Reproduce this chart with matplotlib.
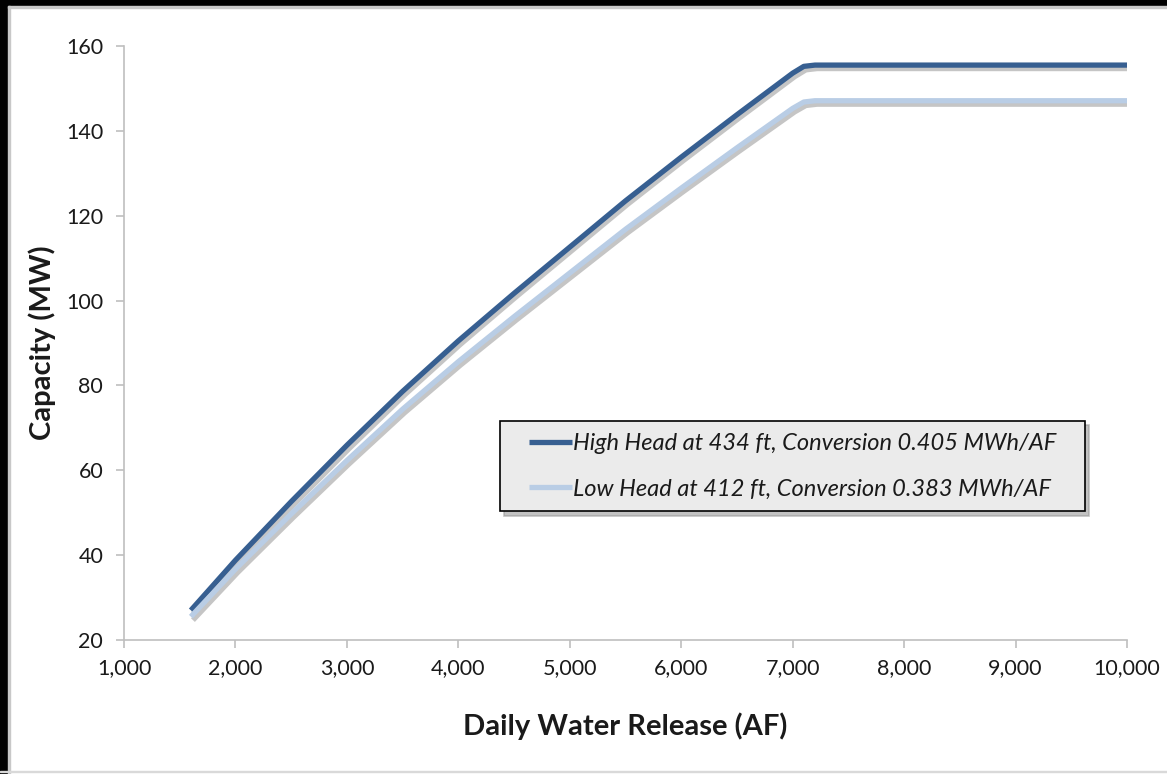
"""Capacity vs daily water release chart."""

import matplotlib

matplotlib.use("Agg")
from matplotlib import pyplot as plt  # noqa: E402
from matplotlib import patheffects as pe  # noqa: E402
from matplotlib.legend_handler import HandlerLine2D  # noqa: E402
from matplotlib.patches import Rectangle  # noqa: E402
from matplotlib.ticker import FuncFormatter, MultipleLocator  # noqa: E402

plt.rcParams["font.family"] = ["Lato", "DejaVu Sans"]

release_af = [1600, 2000, 2500, 3000, 3500, 4000, 4500, 5000, 5500,
              6000, 6500, 7000, 7100, 7200, 7300, 10000]
high_head_mw = [27.0, 38.8, 52.6, 65.9, 78.6, 90.5, 101.7, 112.6, 123.5,
                133.8, 143.8, 153.6, 155.2, 155.5, 155.5, 155.5]
low_head_mw = [25.5, 36.7, 49.7, 62.3, 74.4, 85.6, 96.2, 106.5, 116.8,
               126.5, 136.0, 145.3, 146.8, 147.1, 147.1, 147.1]
series_labels = [
    "High Head at 434 ft, Conversion 0.405 MWh/AF",
    "Low Head at 412 ft, Conversion 0.383 MWh/AF",
]

_HIGH_COLOR = "#375f91"
_LOW_COLOR = "#b9cde5"
_AXIS_COLOR = "#bfbfbf"
_TEXT_COLOR = "#1a1a1a"


class _RightAlignedLine(HandlerLine2D):
    """Legend line drawn only over the right part of the handle slot, no shadow."""

    fraction = 0.72

    def get_xdata(self, legend, xdescent, ydescent, width, height, fontsize):
        start = -xdescent + width * (1 - self.fraction)
        xdata = [start, -xdescent + width]
        return xdata, xdata

    def create_artists(self, *args, **kwargs):
        artists = super().create_artists(*args, **kwargs)
        for artist in artists:
            artist.set_path_effects([])
        return artists


W, H = 1167, 774
fig = plt.figure(figsize=(W / 100, H / 100), dpi=100, facecolor="white")

# screenshot frame: heavy black edge top/left, thin grey bottom
fig.patches.append(Rectangle((0, 1 - 6 / H), 1, 6 / H, transform=fig.transFigure,
                             color="black", zorder=10))
fig.patches.append(Rectangle((0, 0), 8 / W, 1, transform=fig.transFigure,
                             color="black", zorder=10))
fig.patches.append(Rectangle((8 / W, 1 - 8 / H), 1, 2 / H, transform=fig.transFigure,
                             color="#c8c8c8", zorder=10))
fig.patches.append(Rectangle((8 / W, 0), 2 / W, 1 - 6 / H, transform=fig.transFigure,
                             color="#c8c8c8", zorder=10))
fig.patches.append(Rectangle((0, 2 / H), 1, 1.5 / H, transform=fig.transFigure,
                             color="#d9d9d9", zorder=10))

ax = fig.add_axes([124 / W, (H - 640) / H, (1127 - 124) / W, (640 - 46) / H])

shadow = [pe.SimpleLineShadow(offset=(1.5, -2.5), shadow_color="#7f7f7f", alpha=0.45),
          pe.Normal()]
for values, color, label in [(high_head_mw, _HIGH_COLOR, series_labels[0]),
                             (low_head_mw, _LOW_COLOR, series_labels[1])]:
    ax.plot(release_af, values, color=color, linewidth=3.8, label=label,
            solid_capstyle="butt", solid_joinstyle="round", path_effects=shadow)

ax.set_xlim(1000, 10000)
ax.set_ylim(20, 160)
ax.xaxis.set_major_locator(MultipleLocator(1000))
ax.yaxis.set_major_locator(MultipleLocator(20))
ax.xaxis.set_major_formatter(FuncFormatter(lambda v, _: f"{v:,.0f}"))

for side in ("top", "right"):
    ax.spines[side].set_visible(False)
for side in ("left", "bottom"):
    ax.spines[side].set_color(_AXIS_COLOR)
    ax.spines[side].set_linewidth(1.2)
ax.tick_params(axis="both", direction="out", length=6, width=1.2, color=_AXIS_COLOR,
               labelsize=15.5, labelcolor=_TEXT_COLOR)
ax.tick_params(axis="x", pad=7)
ax.tick_params(axis="y", pad=9)

ax.set_xlabel("Daily Water Release (AF)", fontsize=21, fontweight="bold",
              color=_TEXT_COLOR, labelpad=25)
ax.set_ylabel("Capacity (MW)", fontsize=21, fontweight="bold",
              color=_TEXT_COLOR, labelpad=7)

legend = ax.legend(
    loc="upper left",
    bbox_to_anchor=(500 / W, 1 - 512 / H, 585 / W, 91 / H),
    bbox_transform=fig.transFigure,
    mode="expand",
    prop={"style": "italic", "size": 17},
    fancybox=False,
    shadow={"ox": 3, "oy": -3, "color": "#9a9a9a", "alpha": 0.6},
    facecolor="#ebebeb",
    edgecolor="black",
    framealpha=1,
    borderaxespad=0,
    borderpad=0.5,
    handlelength=2.55,
    handletextpad=0.05,
    labelspacing=1.05,
    handler_map={matplotlib.lines.Line2D: _RightAlignedLine()},
)
legend.get_frame().set_linewidth(1.2)
for text in legend.get_texts():
    text.set_color(_TEXT_COLOR)

fig.savefig("out.png", dpi=100, facecolor="white")
plt.close(fig)
